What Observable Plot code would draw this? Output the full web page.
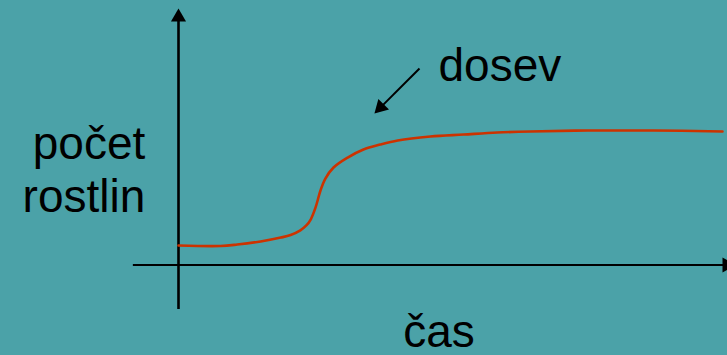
<!DOCTYPE html>
<html>
<head>
<meta charset="utf-8">
<script src="https://cdn.jsdelivr.net/npm/d3@7"></script>
<script src="https://cdn.jsdelivr.net/npm/@observablehq/plot@0.6"></script>
<style>
  html, body { margin: 0; padding: 0; background: #4BA2A8; }
  #chart svg { display: block; }
</style>
</head>
<body>
<div id="chart"></div>
<script>
// Curve (time in arbitrary units, count of plants in arbitrary units)
const times  = [0, 7.7, 10.8, 15.1, 18.8, 20.6, 22.4, 23.5, 24.3, 25.2, 26.1, 27.0, 28.5, 31.1, 34.0, 37.1, 40.3, 46.3, 52.4, 58.6, 64.7, 75.2, 87.3, 100];
const counts = [14.5, 14.1, 15.2, 17.5, 20.4, 22.3, 25.8, 29.4, 33.8, 42.8, 55.4, 64.3, 72.5, 79.9, 85.9, 89.6, 92.6, 95.5, 97.0, 98.5, 99.3, 100, 100, 99.3];

// Axis extents
const xAxisExtent = [-8.3, 100.5];
const yAxisExtent = [-33, 183];
const xArrowTip = [100.8, 0];
const yArrowTip = [0, 184.2];

// Annotation arrow ("dosev")
const annotFrom = [44.3, 146.1];
const annotTo = [37.15, 117.2];

// Labels
const yLabel = "počet\nrostlin";
const yLabelPos = [-6.1, 71.6];
const xLabel = "čas";
const xLabelPos = [47.9, -50.2];
const annotLabel = "dosev";
const annotLabelPos = [47.8, 148.1];

const curve = times.map((t, i) => ({t, n: counts[i]}));
const font = "'Liberation Sans', Arial, sans-serif";

const chart = Plot.plot({
  width: 727,
  height: 355,
  margin: 0,
  style: {background: "#4BA2A8", fontFamily: font, overflow: "visible"},
  x: {domain: [0, 100], range: [178, 722], axis: null},
  y: {domain: [0, 100], range: [264.5, 130], axis: null},
  marks: [
    // x axis
    Plot.ruleY([0], {x1: xAxisExtent[0], x2: xAxisExtent[1], stroke: "black", strokeWidth: 2.2}),
    Plot.dot([xArrowTip], {x: d => d[0], y: d => d[1], symbol: "triangle", r: 5.6, fill: "black", stroke: "none", rotate: 90}),
    // y axis
    Plot.ruleX([0], {y1: yAxisExtent[0], y2: yAxisExtent[1], stroke: "black", strokeWidth: 2.6}),
    Plot.dot([yArrowTip], {x: d => d[0], y: d => d[1], symbol: "triangle", r: 5.6, fill: "black", stroke: "none"}),
    // curve
    Plot.line(curve, {x: "t", y: "n", stroke: "#CC3300", strokeWidth: 2.6, curve: "catmull-rom"}),
    // annotation arrow
    Plot.link([[annotFrom, annotTo]], {x1: d => d[0][0], y1: d => d[0][1], x2: d => d[1][0], y2: d => d[1][1], stroke: "black", strokeWidth: 2}),
    Plot.dot([annotTo], {x: d => d[0], y: d => d[1], symbol: "triangle", r: 5.6, fill: "black", stroke: "none", rotate: 225}),
    // texts
    Plot.text([yLabel], {x: yLabelPos[0], y: yLabelPos[1], text: d => d, textAnchor: "end", fontSize: 46, lineHeight: 1.16, fill: "black", fontFamily: font}),
    Plot.text([xLabel], {x: xLabelPos[0], y: xLabelPos[1], text: d => d, textAnchor: "middle", fontSize: 46, fill: "black", fontFamily: font}),
    Plot.text([annotLabel], {x: annotLabelPos[0], y: annotLabelPos[1], text: d => d, textAnchor: "start", fontSize: 46, fill: "black", fontFamily: font})
  ]
});
document.getElementById("chart").appendChild(chart);
</script>
</body>
</html>
